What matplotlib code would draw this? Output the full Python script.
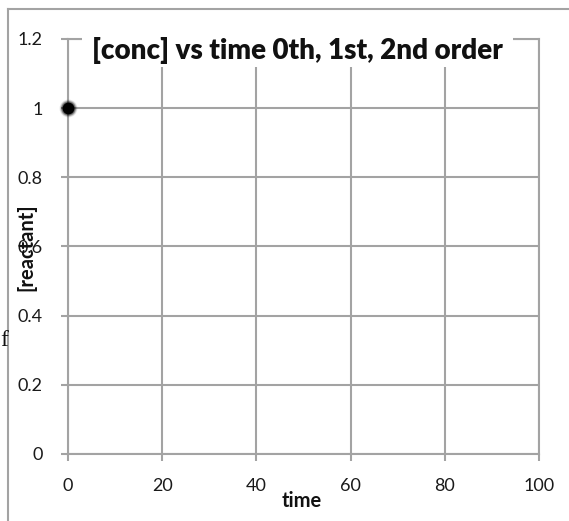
import matplotlib
matplotlib.use("Agg")
import matplotlib.pyplot as plt
from matplotlib.patches import Rectangle
from matplotlib.lines import Line2D

# data
time = [0]
reactant = [1.0]
x_ticks = [0, 20, 40, 60, 80, 100]
y_ticks = [0, 0.2, 0.4, 0.6, 0.8, 1.0, 1.2]
y_tick_labels = ["0", "0.2", "0.4", "0.6", "0.8", "1", "1.2"]

W, H = 569, 521
GRID = "#a3a3a3"

plt.rcParams['font.family'] = ['Lato', 'DejaVu Sans']

fig = plt.figure(figsize=(W / 100, H / 100), dpi=100)
ax = fig.add_axes([68 / W, 1 - 454 / H, (539 - 68) / W, (454 - 39) / H])

ax.set_xlim(0, 100)
ax.set_ylim(0, 1.2)
ax.set_xticks(x_ticks)
ax.set_yticks(y_ticks)
ax.set_yticklabels(y_tick_labels)
ax.grid(True, color=GRID, lw=1.5)
ax.set_axisbelow(True)
for s in ax.spines.values():
    s.set_color(GRID)
    s.set_linewidth(1.5)
ax.tick_params(axis='both', length=5, width=1.5, color=GRID, labelsize=13,
               labelcolor="#1a1a1a")
ax.tick_params(axis='x', pad=12)
ax.tick_params(axis='y', pad=13)

# blurred edge, then the point itself
for ms, a in [(13, 0.08), (12, 0.12), (11, 0.2), (10, 0.35)]:
    ax.plot(time, reactant, 'o', color="#000000", ms=ms, alpha=a, mec='none', clip_on=False, zorder=3)
ax.plot(time, reactant, 'o', color="#000000", ms=8.5, mec='none', clip_on=False, zorder=4)

# title box sits over the top gridline
fig.patches.append(Rectangle((82 / W, 1 - 67 / H), (513 - 82) / W, (67 - 35) / H,
                             transform=fig.transFigure, facecolor="white", edgecolor="none", zorder=2))
fig.text(297 / W, 1 - 50 / H, "[conc] vs time 0th, 1st, 2nd order", ha='center', va='center',
         fontsize=20, fontweight='heavy', color="#111111", zorder=3)

fig.text(302 / W, 1 - 501 / H, "time", ha='center', va='center', fontsize=14.5,
         fontweight='bold', color="#111111")
fig.text(26 / W, 1 - 247 / H, "[reactant]", ha='center', va='center', rotation=90,
         fontsize=14.5, fontweight='bold', color="#111111")

# stray character and the outer frame
fig.text(4 / W, 1 - 340 / H, "f", ha='center', va='center', fontsize=17,
         family=['Liberation Serif', 'DejaVu Serif'], color="#111111")
fig.add_artist(Line2D([8 / W, 8 / W], [0, 1 - 9 / H], transform=fig.transFigure, color=GRID, lw=1.5))
fig.add_artist(Line2D([8 / W, 1], [1 - 9 / H, 1 - 9 / H], transform=fig.transFigure, color=GRID, lw=1.5))

fig.savefig("out.png", dpi=100)
